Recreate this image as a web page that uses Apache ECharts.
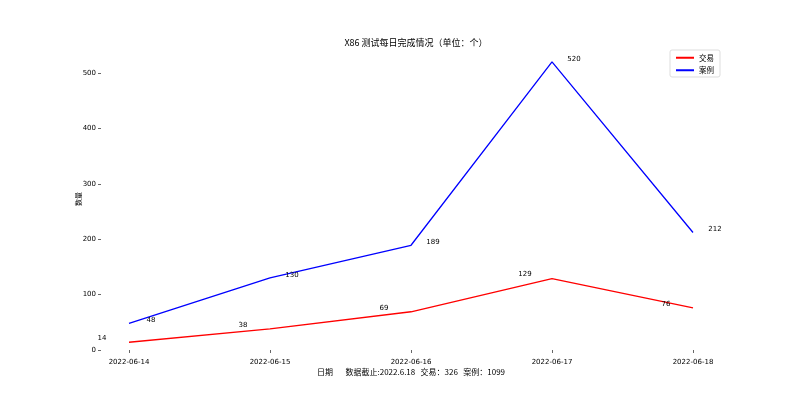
<!DOCTYPE html>
<html><head><meta charset="utf-8">
<script src="https://cdn.jsdelivr.net/npm/echarts@6/dist/echarts.min.js"></script>
<style>html,body{margin:0;padding:0;background:#fff}#c{width:800px;height:398px}</style>
</head><body><div id="c"></div>
<script>
const categories = ['2022-06-14','2022-06-15','2022-06-16','2022-06-17','2022-06-18'];
const tradeValues = [14, 38, 69, 129, 76];
const caseValues = [48, 130, 189, 520, 212];
const titleText = 'X86 测试每日完成情况（单位：个）';
const xName = '日期       数据截止:2022.6.18   交易：326   案例：1099';
const yName = '数量';
const FONT = '"DejaVu Sans", "Noto Sans CJK SC", sans-serif';
const CJK = '"Noto Sans CJK SC", "DejaVu Sans", sans-serif';

const chart = echarts.init(document.getElementById('c'), null, {renderer:'canvas'});
chart.setOption({
  animation: false,
  backgroundColor: '#fff',
  title: { text: titleText, left: 411, top: 33, textAlign: 'center',
    textStyle: { fontSize: 9, fontWeight: 'normal', color: '#000', fontFamily: CJK } },
  legend: {
    data: ['交易','案例'], orient: 'vertical', right: 80, top: 50,
    itemWidth: 18, itemHeight: 2, itemGap: 5, padding: [4,6,3,6],
    borderColor: '#ddd', borderWidth: 1, borderRadius: 2,
    textStyle: { fontSize: 7.5, color: '#000', fontFamily: CJK },
    icon: 'rect'
  },
  grid: { left: 129, right: 107, top: 48, bottom: 48 },
  xAxis: {
    type: 'category', data: categories, boundaryGap: false, offset: 6,
    name: xName, nameLocation: 'middle', nameGap: 12, nameMoveOverlap: false,
    nameTextStyle: { fontSize: 8, color: '#000', fontFamily: CJK },
    axisLine: { show: false },
    axisTick: { show: true, length: 3, alignWithLabel: true, lineStyle: { color: '#000', width: 0.6 } },
    axisLabel: { fontSize: 7, color: '#000', margin: 3, fontFamily: FONT },
    splitLine: { show: false }
  },
  yAxis: {
    type: 'value', min: 0, max: 545, interval: 100, offset: 28,
    name: yName, nameLocation: 'middle', nameGap: 19, nameRotate: 90, nameMoveOverlap: false,
    nameTextStyle: { fontSize: 7, color: '#000', fontFamily: CJK },
    axisLine: { show: false },
    axisTick: { show: true, length: 3, lineStyle: { color: '#000', width: 0.6 } },
    axisLabel: { fontSize: 7, color: '#000', margin: 5, showMaxLabel: false, fontFamily: FONT },
    splitLine: { show: false }
  },
  series: [
    { name: '交易', type: 'line', data: tradeValues, color: '#ff0000',
      symbol: 'circle', symbolSize: 0.1, showSymbol: true,
      lineStyle: { width: 1.3, color: '#ff0000' },
      label: { show: true, position: 'inside', offset: [-27, -4], fontSize: 7, color: '#000', fontFamily: FONT } },
    { name: '案例', type: 'line', data: caseValues, color: '#0000ff',
      symbol: 'circle', symbolSize: 0.1, showSymbol: true,
      lineStyle: { width: 1.3, color: '#0000ff' },
      label: { show: true, position: 'inside', offset: [22, -3], fontSize: 7, color: '#000', fontFamily: FONT } }
  ]
});
</script></body></html>
